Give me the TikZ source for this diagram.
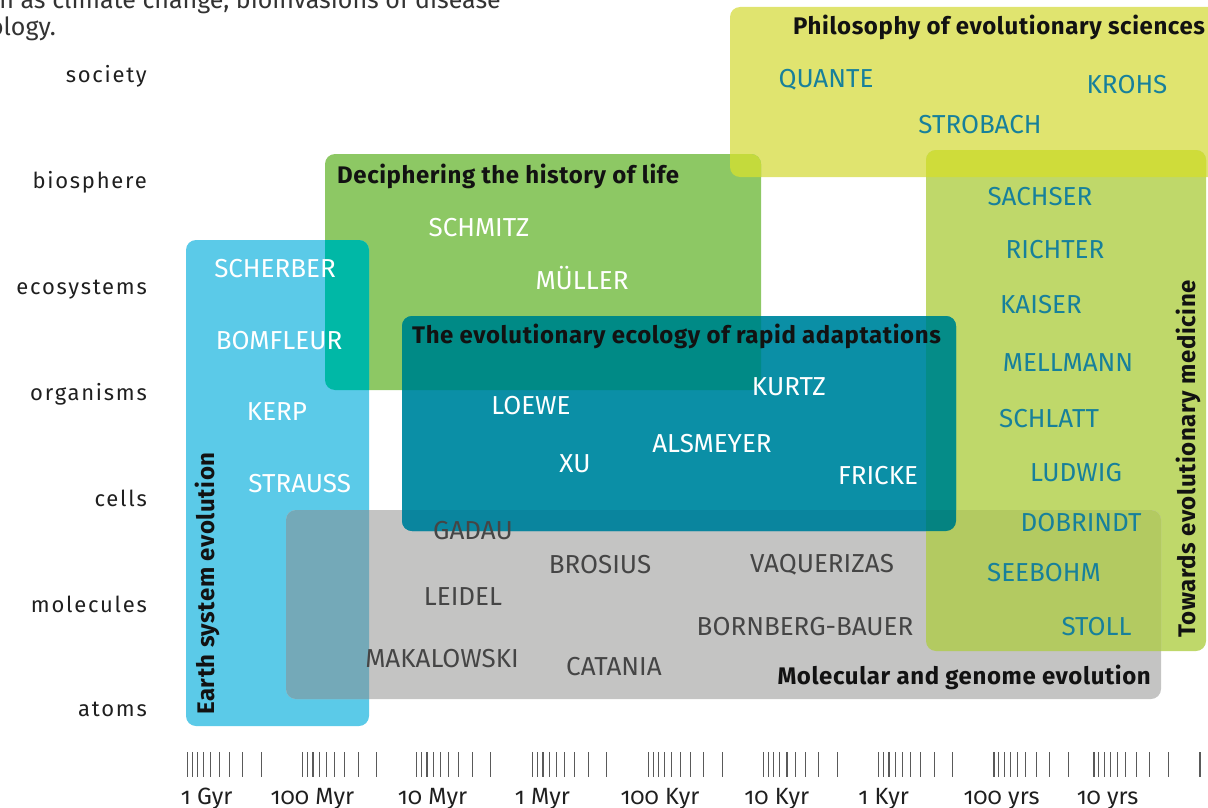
\documentclass[tikz,border=0pt]{standalone}
\usepackage{fontspec}
\setmainfont{Fira Sans}
\newfontfamily\axisfam[LetterSpace=8]{Fira Sans}
\newfontfamily\numfam[Numbers=OldStyle]{Fira Sans}
\newfontfamily\ttlfam[LetterSpace=2.5]{Fira Sans}
\definecolor{cPhil}{HTML}{E0E46F}
\definecolor{cMed}{HTML}{BFD86A}
\definecolor{cDec}{HTML}{8DC864}
\definecolor{cEarth}{HTML}{5BCAE8}
\definecolor{cRapid}{HTML}{0B8FA6}
\definecolor{cMol}{HTML}{C4C4C3}
\definecolor{oEarthDec}{HTML}{00B8A6}
\definecolor{oEarthMol}{HTML}{74A9B8}
\definecolor{oDecRapid}{HTML}{008A86}
\definecolor{oDecPhil}{HTML}{C4DA3C}
\definecolor{oPhilMed}{HTML}{CFDC3A}
\definecolor{oRapidMed}{HTML}{058C88}
\definecolor{oRapidMol}{HTML}{0A859E}
\definecolor{oMedMol}{HTML}{B3CA61}
\definecolor{oTriple}{HTML}{058381}
\definecolor{tealtext}{HTML}{17809B}
\definecolor{graytext}{HTML}{454545}
\definecolor{ticktone}{HTML}{5A5A5A}
\newcommand\BoxPhil{(730,7) rectangle (1222,177)}
\newcommand\BoxMed{(926,150) rectangle (1206,651)}
\newcommand\BoxDec{(325,154) rectangle (761,390)}
\newcommand\BoxEarth{(186,240) rectangle (369,726)}
\newcommand\BoxRapid{(402,316) rectangle (956,531)}
\newcommand\BoxMol{(286,510) rectangle (1161,699)}
\newcommand\overlap[3]{\begin{scope}\clip[rounded corners=10pt] #1;\fill[#3,rounded corners=10pt] #2;\end{scope}}
\tikzset{
  pname/.style={inner sep=0pt, font=\fontsize{26}{26}\selectfont},
  wname/.style={pname, text=white},
  tname/.style={pname, text=tealtext},
  gname/.style={pname, text=graytext},
  ttl/.style={inner sep=0pt, text=black!93, font=\ttlfam\bfseries\fontsize{24}{24}\selectfont},
  lvl/.style={inner sep=0pt, anchor=base east, text=black!88, font=\axisfam\fontsize{22}{22}\selectfont},
  tlab/.style={inner sep=0pt, anchor=base, text=black!88, font=\numfam\fontsize{23.5}{23.5}\selectfont},
  tick/.style={ticktone, line width=1.1pt},
}
\begin{document}
\begin{tikzpicture}[x=1pt,y=-1pt]
\useasboundingbox (0,0) rectangle (1208,808);
% page text cut off at the top
\node[inner sep=0pt, anchor=base east, text=black!80, font=\fontsize{25}{25}\selectfont] (pt1) at (501,9) {h as climate change, bioinvasions of disease};
\node[inner sep=0pt, anchor=base east, text=black!80, font=\fontsize{25}{25}\selectfont] (pt2) at (56,36) {ology.};
% boxes
\fill[cPhil, rounded corners=10pt] \BoxPhil;
\fill[cMed, rounded corners=10pt] \BoxMed;
\fill[cDec, rounded corners=10pt] \BoxDec;
\fill[cEarth, rounded corners=10pt] \BoxEarth;
\fill[cMol, rounded corners=10pt] \BoxMol;
\fill[cRapid, rounded corners=10pt] \BoxRapid;
% overlaps
\overlap{\BoxEarth}{\BoxDec}{oEarthDec}
\overlap{\BoxEarth}{\BoxMol}{oEarthMol}
\overlap{\BoxDec}{\BoxRapid}{oDecRapid}
\overlap{\BoxDec}{\BoxPhil}{oDecPhil}
\overlap{\BoxPhil}{\BoxMed}{oPhilMed}
\overlap{\BoxRapid}{\BoxMed}{oRapidMed}
\overlap{\BoxRapid}{\BoxMol}{oRapidMol}
\overlap{\BoxMed}{\BoxMol}{oMedMol}
\begin{scope}\clip[rounded corners=10pt] \BoxRapid;\clip[rounded corners=10pt] \BoxMed;\fill[oTriple,rounded corners=10pt] \BoxMol;\end{scope}
% level labels
\node[lvl] (l1) at (147,83) {society};
\node[lvl] (l2) at (147,188) {biosphere};
\node[lvl] (l3) at (147,294) {ecosystems};
\node[lvl] (l4) at (147,400) {organisms};
\node[lvl] (l5) at (147,506) {cells};
\node[lvl] (l6) at (147,612) {molecules};
\node[lvl] (l7) at (147,716) {atoms};
% titles
\node[ttl, anchor=base west] (tPhil) at (793,35) {Philosophy of evolutionary sciences};
\node[ttl, anchor=base west] (tDec) at (337,183) {Deciphering the history of life};
\node[ttl, anchor=base west] (tRapid) at (412,343) {The evolutionary ecology of rapid adaptations};
\node[ttl, anchor=base east] (tMol) at (1151,684) {Molecular and genome evolution};
\node[ttl, anchor=base west, rotate=90] (tEarth) at (214,715) {Earth system evolution};
\node[ttl, anchor=base west, rotate=90] (tMed) at (1195,638) {Towards evolutionary medicine};
% philosophy
\node[tname] (quante) at (826,80) {QUANTE};
\node[tname] (krohs) at (1127,85) {KROHS};
\node[tname] (strobach) at (980,125) {STROBACH};
% medicine
\node[tname] (sachser) at (1040,197) {SACHSER};
\node[tname] (richter) at (1055,250) {RICHTER};
\node[tname] (kaiser) at (1041,305) {KAISER};
\node[tname] (mellmann) at (1068,363) {MELLMANN};
\node[tname] (schlatt) at (1049,419) {SCHLATT};
\node[tname] (ludwig) at (1076,473) {LUDWIG};
\node[tname] (dobrindt) at (1081,522.5) {DOBRINDT};
\node[tname] (seebohm) at (1044,573) {SEEBOHM};
\node[tname] (stoll) at (1096.5,626.5) {STOLL};
% deciphering
\node[wname] (schmitz) at (479,228) {SCHMITZ};
\node[wname, anchor=base] (mueller) at (582,289) {MÜLLER};
% earth
\node[wname] (scherber) at (275,268.5) {SCHERBER};
\node[wname] (bomfleur) at (279,340.5) {BOMFLEUR};
\node[wname] (kerp) at (277,412) {KERP};
\node[wname] (strauss) at (299.7,484) {STRAUSS};
% rapid
\node[wname] (loewe) at (531,406) {LOEWE};
\node[wname] (kurtz) at (789,387) {KURTZ};
\node[wname] (alsmeyer) at (712,444) {ALSMEYER};
\node[wname] (xu) at (575,464) {XU};
\node[wname] (fricke) at (878,476) {FRICKE};
% molecular
\node[gname] (gadau) at (473,530.5) {GADAU};
\node[gname] (brosius) at (600,565) {BROSIUS};
\node[gname] (vaquerizas) at (822,565) {VAQUERIZAS};
\node[gname] (leidel) at (463,597) {LEIDEL};
\node[gname] (bornberg) at (805,627) {BORNBERG-BAUER};
\node[gname] (makalowski) at (442,658.5) {MAKALOWSKI};
\node[gname] (catania) at (614,667) {CATANIA};
% time axis ticks
\foreach \g in {187.3,302.7,416.7,532.7,648.3,763.5,878.7,994,1094}{
  \foreach \o in {0,4.85,10.27,16.42,23.52,31.91,42.18,55.43,74.1}{
    \draw[tick] (\g+\o,752) -- (\g+\o,777);
  }
}
\draw[tick] (1200,752) -- (1200,777);
% time axis labels
\node[tlab] (a1) at (206.7,804) {1 Gyr};
\node[tlab] (a2) at (312.5,804) {100 Myr};
\node[tlab] (a3) at (432.5,804) {10 Myr};
\node[tlab] (a4) at (542.5,804) {1 Myr};
\node[tlab] (a5) at (660,804) {100 Kyr};
\node[tlab] (a6) at (776.8,804) {10 Kyr};
\node[tlab] (a7) at (883.7,804) {1 Kyr};
\node[tlab] (a8) at (1001.5,804) {100 yrs};
\node[tlab] (a9) at (1107.6,804) {10 yrs};
\end{tikzpicture}
\end{document}
